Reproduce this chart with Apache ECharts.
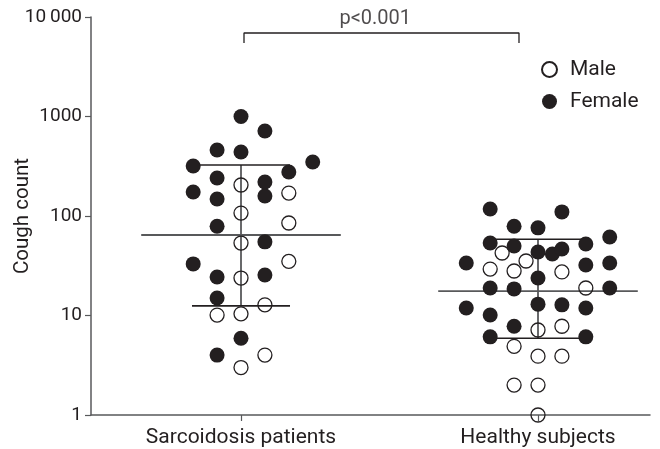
<!DOCTYPE html>
<html>
<head>
<meta charset="utf-8">
<script src="https://cdn.jsdelivr.net/npm/echarts@6/dist/echarts.min.js"></script>
<style>html,body{margin:0;padding:0;background:#fff;}#c{width:660px;height:449px;}</style>
</head>
<body>
<div id="c"></div>
<script>
// ---- data ----
const categories = ['Sarcoidosis patients', 'Healthy subjects'];
const yTicks = [1, 10, 100, 1000, 10000];

// Sarcoidosis patients
const sarcFemale    = [1000, 715, 461, 440, 318, 349, 277, 241, 220, 174, 148, 159, 79, 55, 33, 24.4, 25.5, 15, 5.9, 4.0];
const sarcFemaleCol = [0, 1, -1, 0, -2, 3, 2, -1, 1, -2, -1, 1, -1, 1, -2, -1, 1, -1, 0, -1];
const sarcMale      = [205, 170, 107, 85, 53.5, 35, 23.8, 12.8, 10.1, 10.4, 4.0, 3.0];
const sarcMaleCol   = [0, 2, 0, 2, 0, 2, 0, 1, -1, 0, 1, 0];

// Healthy subjects
const healthyFemale    = [117.5, 110, 79, 76, 53.5, 50, 43.5, 41.5, 46.6, 52.3, 61.5, 33.7, 32.2, 33.7, 23.8, 18.9, 18.5, 18.9, 11.9, 10.1, 13.0, 12.8, 11.9, 7.8, 6.1, 6.1];
const healthyFemaleCol = [-2, 1, -1, 0, -2, -1, 0, 0.6, 1, 2, 3, -3, 2, 3, 0, -2, -1, 3, -3, -2, 0, 1, 2, -1, -2, 2];
const healthyMale      = [42.5, 35.3, 29.3, 28, 27.4, 18.9, 7.15, 7.8, 4.9, 3.9, 3.9, 2.0, 2.0, 1];
const healthyMaleCol   = [-1.5, -0.5, -2, -1, 1, 2, 0, 1, -1, 0, 1, -1, 0, 0];

// median and interquartile range per group
const medians = [64.4, 17.6];
const q1s     = [12.5, 5.9];
const q3s     = [326, 58.3];

const pLabel = 'p<0.001';

// ---- layout helpers ----
const groupPos = [1, 2];
const colW = 0.0805;
const medHalf = 0.336;
const qHalf = 0.165;
const FONT = 'Roboto';
const TXT = '#231f20';

function pts(vals, cols, g) {
  return vals.map((v, i) => [groupPos[g] + cols[i] * colW, v]);
}
const femaleData = pts(sarcFemale, sarcFemaleCol, 0).concat(pts(healthyFemale, healthyFemaleCol, 1));
const maleData = pts(sarcMale, sarcMaleCol, 0).concat(pts(healthyMale, healthyMaleCol, 1));

const statData = groupPos.map((x, i) => [x, medians[i], q1s[i], q3s[i]]);

const chart = echarts.init(document.getElementById('c'), null, {renderer: 'canvas'});
chart.setOption({
  animation: false,
  grid: {left: 91, right: 10, top: 17, bottom: 34, containLabel: false, outerBoundsMode: 'none'},
  legend: {
    orient: 'vertical',
    left: 536, top: 54,
    itemWidth: 15, itemHeight: 15, itemGap: 11,
    data: [
      {name: 'Male', icon: 'circle'},
      {name: 'Female', icon: 'circle'}
    ],
    textStyle: {fontFamily: FONT, fontSize: 21, color: TXT, padding: [0, 0, 0, 8]}
  },
  xAxis: {
    type: 'value',
    min: 1 - 150 / 297,
    max: 1 - 150 / 297 + 559 / 297,
    splitLine: {show: false},
    axisLine: {lineStyle: {color: '#58595b', width: 1.5}},
    axisTick: {show: true, length: 6, customValues: groupPos, lineStyle: {color: '#58595b', width: 1.2}},
    axisLabel: {
      customValues: groupPos,
      formatter: v => categories[Math.round(v) - 1],
      fontFamily: FONT, fontSize: 21, color: TXT, margin: 12
    }
  },
  yAxis: {
    type: 'log',
    logBase: 10,
    min: 1, max: 10000,
    name: 'Cough count',
    nameLocation: 'middle',
    nameGap: 58,
    nameMoveOverlap: false,
    nameTextStyle: {fontFamily: FONT, fontSize: 20.5, color: TXT},
    splitLine: {show: false},
    axisLine: {show: true, lineStyle: {color: '#58595b', width: 1.5}},
    axisTick: {show: true, length: 6, lineStyle: {color: '#58595b', width: 1.2}},
    axisLabel: {
      formatter: v => (v === 10000 ? '10\u2009000' : String(v)),
      fontFamily: FONT, fontSize: 19, color: TXT, margin: 9
    }
  },
  series: [
    {
      type: 'custom',
      name: 'stats',
      z: 1,
      silent: true,
      data: statData,
      renderItem: function (params, api) {
        const x = api.value(0);
        const med = api.coord([x, api.value(1)]);
        const q1 = api.coord([x, api.value(2)]);
        const q3 = api.coord([x, api.value(3)]);
        const mL = api.coord([x - medHalf, api.value(1)]);
        const mR = api.coord([x + medHalf, api.value(1)]);
        const qL = api.coord([x - qHalf, api.value(2)]);
        const qR = api.coord([x + qHalf, api.value(2)]);
        const tL = api.coord([x - qHalf, api.value(3)]);
        const tR = api.coord([x + qHalf, api.value(3)]);
        return {
          type: 'group',
          children: [
            {type: 'line', shape: {x1: mL[0], y1: med[1], x2: mR[0], y2: med[1]}, style: {stroke: '#58595b', lineWidth: 1.8}},
            {type: 'line', shape: {x1: med[0], y1: q1[1], x2: med[0], y2: q3[1]}, style: {stroke: '#58595b', lineWidth: 1.8}},
            {type: 'line', shape: {x1: qL[0], y1: q1[1], x2: qR[0], y2: q1[1]}, style: {stroke: '#231f20', lineWidth: 1.6}},
            {type: 'line', shape: {x1: tL[0], y1: q3[1], x2: tR[0], y2: q3[1]}, style: {stroke: '#231f20', lineWidth: 1.6}}
          ]
        };
      }
    },
    {
      type: 'line',
      name: 'bracket',
      z: 1,
      silent: true,
      symbol: 'none',
      lineStyle: {color: '#231f20', width: 1.3},
      data: [[1.0101, 5480], [1.0101, 6905], [1.936, 6905], [1.936, 5480]]
    },
    {
      type: 'scatter',
      name: 'pval',
      silent: true,
      symbolSize: 0,
      data: [[1.452, 9550]],
      label: {show: true, position: 'inside', formatter: pLabel, fontFamily: FONT, fontSize: 20, color: TXT}
    },
    {
      type: 'scatter',
      name: 'Male',
      z: 3,
      symbol: 'circle',
      symbolSize: 14,
      itemStyle: {color: 'rgba(255,255,255,0)', borderColor: '#231f20', borderWidth: 1.3, opacity: 1},
      data: maleData
    },
    {
      type: 'scatter',
      name: 'Female',
      z: 3,
      symbol: 'circle',
      symbolSize: 15,
      itemStyle: {color: '#231f20', opacity: 1},
      data: femaleData
    }
  ]
});
</script>
</body>
</html>
